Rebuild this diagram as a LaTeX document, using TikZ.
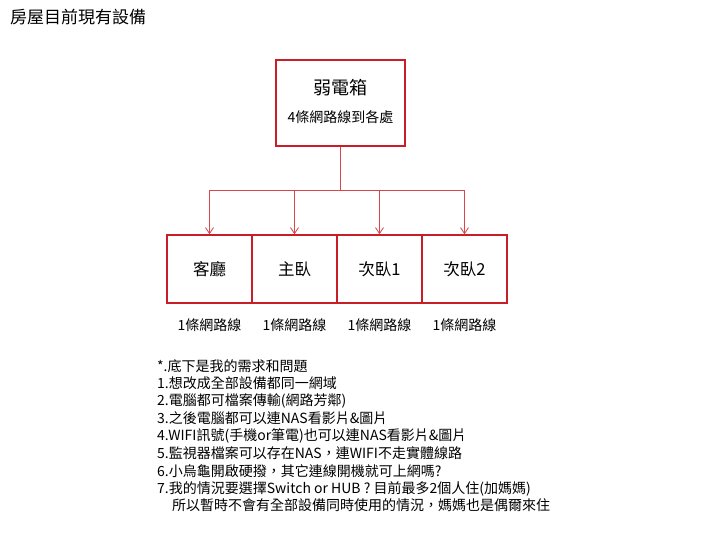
\documentclass[tikz,border=0pt]{standalone}
\usepackage{fontspec}
\setmainfont{Noto Sans CJK TC}
\usetikzlibrary{arrows.meta}
\definecolor{boxred}{RGB}{200,30,40}
\definecolor{linered}{RGB}{215,70,75}
\tikzset{
  room/.style={draw=boxred, line width=1.4pt, minimum width=85pt, minimum height=68pt, inner sep=0pt, font=\fontsize{16.5}{18}\selectfont},
  feed/.style={draw=linered, line width=0.8pt, -{Straight Barb[length=6pt,width=8pt]}},
  txt/.style={anchor=west, inner sep=0pt, font=\fontsize{14}{16}\selectfont}
}
\begin{document}
\begin{tikzpicture}[x=1pt,y=-1pt]
\useasboundingbox (0,0) rectangle (720,540);
\node[anchor=west, inner sep=0pt, font=\fontsize{17}{19}\selectfont] (title) at (10,17) {房屋目前現有設備};
\node[draw=boxred, line width=1.4pt, minimum width=129pt, minimum height=86pt, inner sep=0pt] (box) at (340.5,103) {};
\node[font=\fontsize{18}{20}\selectfont] (boxname) at (340.5,88) {弱電箱};
\node[font=\fontsize{14}{16}\selectfont] (boxnote) at (340.5,117) {4條網路線到各處};
\coordinate (hub) at (340.5,190);
\draw[draw=linered, line width=0.8pt] (box.south) -- (hub);
\foreach \i/\x/\name in {1/209.5/客廳, 2/294.5/主臥, 3/379.5/次臥1, 4/464.5/次臥2}{
  \node[room] (r\i) at (\x,269) {\name};
  \node[font=\fontsize{14}{16}\selectfont] (c\i) at (\x,325) {1條網路線};
  \draw[feed] (hub) -| (r\i.north);
}
% needs and questions
\foreach \n/\y/\line in {0/366/{*.底下是我的需求和問題},
  1/383.5/{1.想改成全部設備都同一網域},
  2/401/{2.電腦都可檔案傳輸(網路芳鄰)},
  3/418.5/{3.之後電腦都可以連NAS看影片\&圖片},
  4/436/{4.WIFI訊號(手機or筆電)也可以連NAS看影片\&圖片},
  5/453.5/{5.監視器檔案可以存在NAS，連WIFI不走實體線路},
  6/471/{6.小烏龜開啟硬撥，其它連線開機就可上網嗎?},
  7/488.5/{7.我的情況要選擇Switch or HUB ? 目前最多2個人住(加媽媽)}}{
  \node[txt] (q\n) at (157,\y) {\line};
}
\node[txt] (q8) at (172,505) {所以暫時不會有全部設備同時使用的情況，媽媽也是偶爾來住};
\end{tikzpicture}
\end{document}
